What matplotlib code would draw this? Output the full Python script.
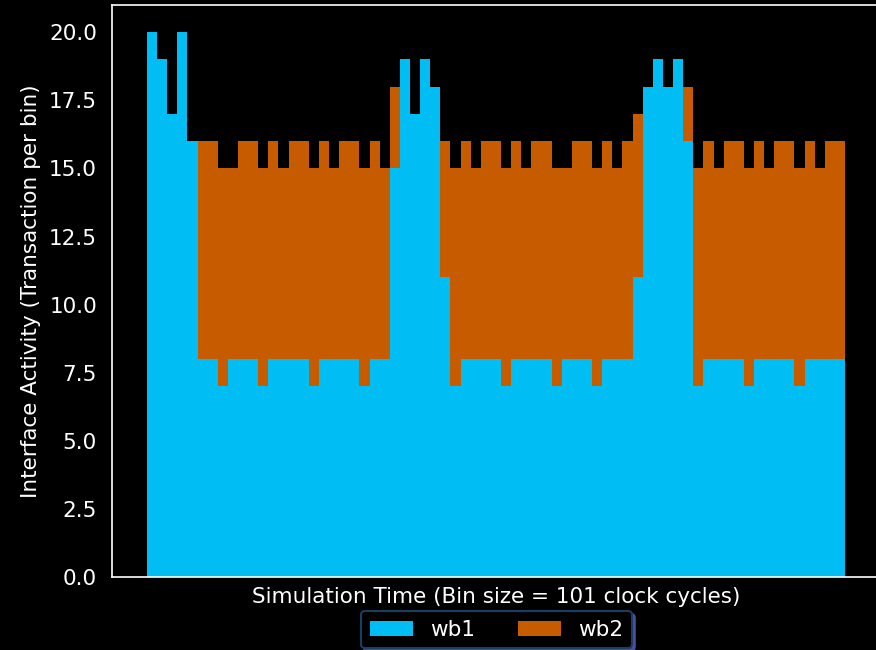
import matplotlib
matplotlib.use("Agg")
import matplotlib.pyplot as plt
import numpy as np

# transactions per bin
wb1 = [20, 19, 17, 20, 16, 8, 8, 7, 8, 8, 8, 7, 8, 8, 8, 8, 7, 8, 8, 8,
       8, 7, 8, 8, 15, 19, 17, 19, 18, 11, 7, 8, 8, 8, 8, 7, 8, 8, 8, 8,
       7, 8, 8, 8, 7, 8, 8, 8, 11, 18, 19, 18, 19, 16, 7, 8, 8, 8, 8, 7,
       8, 8, 8, 8, 7, 8, 8, 8, 8]
wb2 = [0, 0, 0, 0, 0, 8, 8, 8, 7, 8, 8, 8, 8, 7, 8, 8, 8, 8, 7, 8,
       8, 8, 8, 7, 3, 0, 0, 0, 0, 5, 8, 8, 7, 8, 8, 8, 8, 7, 8, 8,
       8, 7, 8, 8, 8, 8, 7, 8, 6, 0, 0, 0, 0, 2, 8, 8, 7, 8, 8, 8,
       8, 7, 8, 8, 8, 8, 7, 8, 8]
labels = ["wb1", "wb2"]
colors = ["#00BEF3", "#C75B00"]

fs = 15.5
fig = plt.figure(figsize=(8.76, 6.5), dpi=100, facecolor="black")
ax = fig.add_axes([112 / 876, 1 - 577 / 650, 768 / 876, 572 / 650])
ax.set_facecolor("black")

x = np.arange(len(wb1))
ax.bar(x, wb1, width=1.0, color=colors[0], label=labels[0], linewidth=0)
ax.bar(x, wb2, width=1.0, bottom=wb1, color=colors[1], label=labels[1], linewidth=0)

ax.set_ylim(0, 21)
ax.set_xticks([])
ax.set_yticks(np.arange(0, 20.1, 2.5))
ax.tick_params(axis="y", colors="white", labelsize=fs, length=0, pad=10.8)
for s in ax.spines.values():
    s.set_color("white")
    s.set_linewidth(1.2)

ax.set_xlabel("Simulation Time (Bin size = 101 clock cycles)", color="white", fontsize=fs, labelpad=7)
ax.set_ylabel("Interface Activity (Transaction per bin)", color="white", fontsize=fs, labelpad=6)

leg = ax.legend(loc="upper center", bbox_to_anchor=(496.5 / 876, 1 - 611 / 650),
                bbox_transform=fig.transFigure, borderaxespad=0, ncol=2, fontsize=fs,
                frameon=True, fancybox=True, shadow={"color": "#4b4f9c", "alpha": 1},
                facecolor="black", edgecolor="#173f63", framealpha=1)
for t in leg.get_texts():
    t.set_color("white")
leg.get_frame().set_linewidth(1.5)

fig.savefig("out.png", dpi=100, facecolor="black")
